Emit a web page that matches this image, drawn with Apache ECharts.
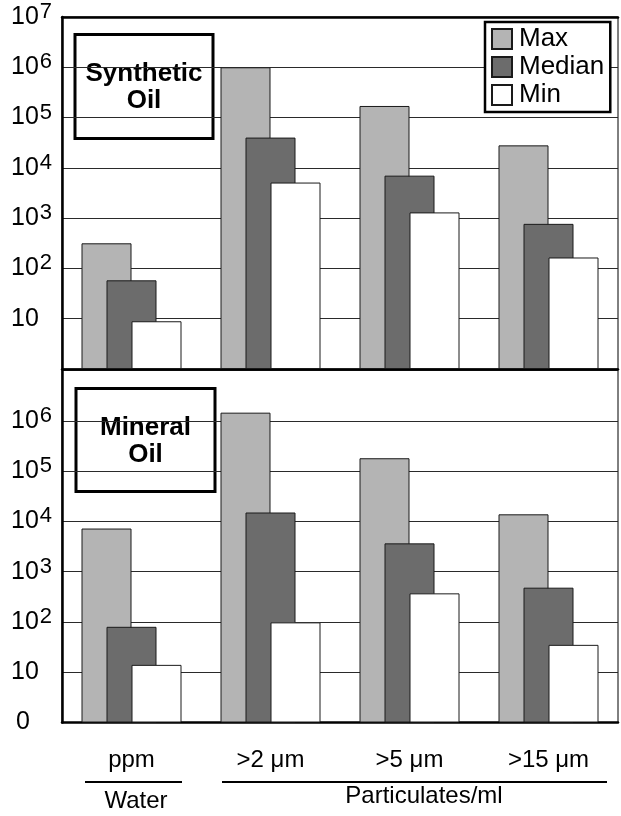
<!DOCTYPE html>
<html>
<head>
<meta charset="utf-8">
<script src="https://cdn.jsdelivr.net/npm/echarts@6/dist/echarts.min.js"></script>
<style>
  html, body { margin: 0; padding: 0; background: #fff; }
  #chart { width: 621px; height: 816px; }
</style>
</head>
<body>
<div id="chart"></div>
<script>
// Categories along the shared x axis
const categories = ['ppm', '>2 μm', '>5 μm', '>15 μm'];

// Synthetic oil (upper panel)
const syntheticMax = [316, 1000000, 170000, 28000];
const syntheticMedian = [58, 40000, 7000, 770];
const syntheticMin = [8.9, 5100, 1300, 165];

// Mineral oil (lower panel)
const mineralMax = [7200, 1450000, 180000, 13800];
const mineralMedian = [80, 15000, 3650, 480];
const mineralMin = [14, 98, 370, 35];

const seriesNames = ['Max', 'Median', 'Min'];
const panelTitles = ['Synthetic\nOil', 'Mineral\nOil'];
const groupLabels = ['Water', 'Particulates/ml'];

const FONT = "'Liberation Sans', Arial, Helvetica, sans-serif";
const fills = { Max: '#b4b4b4', Median: '#6c6c6c', Min: '#ffffff' };

const panels = [
  [syntheticMax, syntheticMedian, syntheticMin],
  [mineralMax, mineralMedian, mineralMin]
];

// Decade labels: 10, 10², ... ; the lower panel's floor reads "0"
function decadeLabel(panel) {
  return function (v) {
    const n = Math.round(Math.log10(v));
    if (n === 0) return panel === 1 ? '{z|0}' : '';
    if (n === 7 && panel === 1) return '';
    if (n === 1) return '{b|10}';
    return '{b|10}{s|' + n + '}';
  };
}

const thick = { show: true, lineStyle: { color: '#000', width: 2.5 } };

const yAxes = [0, 1].map(function (p) {
  return {
    type: 'log', logBase: 10, gridIndex: p, min: 1, max: 1e7, splitNumber: 7,
    axisLine: thick,
    axisTick: { show: false },
    splitLine: { show: true, lineStyle: { color: '#2a2a2a', width: 1.2 } },
    axisLabel: {
      formatter: decadeLabel(p),
      align: 'left',
      margin: 51,
      rich: {
        b: { fontSize: 25, fontFamily: FONT, color: '#000' },
        s: { fontSize: 22, fontFamily: FONT, color: '#000', padding: [0, 0, 10, 1] },
        z: { fontSize: 25, fontFamily: FONT, color: '#000', padding: [0, 0, 0, 5] }
      }
    }
  };
});

const xAxes = [
  { type: 'category', gridIndex: 0, data: categories, position: 'bottom',
    axisLine: thick, axisTick: { show: false }, axisLabel: { show: false } },
  { type: 'category', gridIndex: 1, data: categories, position: 'bottom',
    axisLine: thick, axisTick: { show: false },
    axisLabel: { fontSize: 24, fontFamily: FONT, color: '#000', margin: 26 } },
  { type: 'category', gridIndex: 0, data: categories, position: 'top',
    axisLine: thick, axisTick: { show: false }, axisLabel: { show: false } }
];

const series = [];
panels.forEach(function (sets, p) {
  sets.forEach(function (vals, k) {
    const name = seriesNames[k];
    series.push({
      type: 'bar', name: name, xAxisIndex: p, yAxisIndex: p, data: vals,
      barWidth: 50, barGap: '-50%',
      itemStyle: { color: fills[name], borderColor: '#1a1a1a', borderWidth: 1 },
      emphasis: { disabled: true },
      z: 3
    });
  });
});

function titleBox(x, y, w, h, text) {
  return {
    type: 'group', z: 20,
    children: [
      { type: 'rect', shape: { x: x, y: y, width: w, height: h },
        style: { fill: '#fff', stroke: '#000', lineWidth: 3 } },
      { type: 'text', x: x + w / 2, y: y + h / 2 + 1,
        style: { text: text, fill: '#000', fontSize: 26, fontWeight: 'bold', fontFamily: FONT,
                 lineHeight: 27, align: 'center', verticalAlign: 'middle',
                 textAlign: 'center', textVerticalAlign: 'middle' } }
    ]
  };
}

function caption(x, y, text) {
  return { type: 'text', x: x, y: y, z: 20,
    style: { text: text, fill: '#000', fontSize: 24, fontFamily: FONT,
             align: 'center', verticalAlign: 'middle', textAlign: 'center', textVerticalAlign: 'middle' } };
}

function rule(x1, x2, y) {
  return { type: 'line', z: 20, shape: { x1: x1, y1: y, x2: x2, y2: y },
    style: { stroke: '#000', lineWidth: 2 } };
}

const chart = echarts.init(document.getElementById('chart'), null, { renderer: 'canvas' });
chart.setOption({
  backgroundColor: '#fff',
  animation: false,
  textStyle: { fontFamily: FONT },
  grid: [
    { left: 62, top: 17, width: 556, height: 352, show: true, borderColor: '#000', borderWidth: 1, containLabel: false },
    { left: 62, top: 370.5, width: 556, height: 352, show: true, borderColor: '#000', borderWidth: 1, containLabel: false }
  ],
  legend: {
    orient: 'vertical', left: 485, top: 22,
    data: seriesNames, icon: 'rect', itemWidth: 20, itemHeight: 20, itemGap: 2,
    padding: [4, 6, 4, 6], backgroundColor: '#fff', borderColor: '#000', borderWidth: 2.5,
    selectedMode: false,
    textStyle: { fontSize: 26, fontFamily: FONT, color: '#000', lineHeight: 20, padding: [0, 0, 0, 2] },
    z: 20
  },
  xAxis: xAxes,
  yAxis: yAxes,
  series: series,
  graphic: [
    titleBox(75, 34.5, 138, 104, panelTitles[0]),
    titleBox(76, 388.5, 139, 103, panelTitles[1]),
    rule(85, 182, 782),
    rule(222, 607, 782),
    caption(136, 801, groupLabels[0]),
    caption(424, 796, groupLabels[1])
  ]
});
</script>
</body>
</html>
